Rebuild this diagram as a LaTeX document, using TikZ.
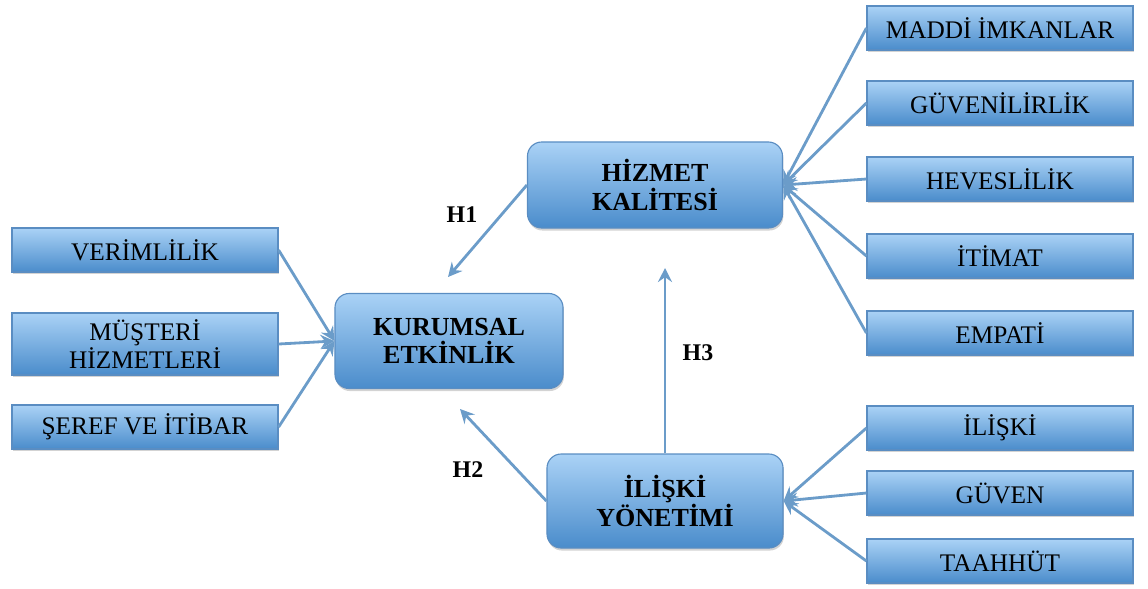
\documentclass[tikz,border=0pt]{standalone}
\usepackage{fontspec}
\setmainfont{Liberation Serif}
\usetikzlibrary{arrows.meta}
\usetikzlibrary{shadows}
\definecolor{boxtop}{HTML}{AAD2F6}
\definecolor{boxbot}{HTML}{4A8CCB}
\definecolor{boxline}{HTML}{5A8DC2}
\definecolor{arr}{HTML}{6B9CC9}
\tikzset{every picture/.style={line width=1pt}}

\begin{document}
\begin{tikzpicture}[x=0.025cm,y=-0.025cm,
sub/.style={rectangle, draw=boxline, line width=0.8pt, top color=boxtop, bottom color=boxbot, minimum width=6.65cm, minimum height=1.1cm, inner sep=1pt, align=center, font=\fontsize{18}{15.5}\selectfont, drop shadow={opacity=0.35, shadow xshift=0.6pt, shadow yshift=-1.6pt}},
main/.style={rectangle, rounded corners=2.2ex, draw=boxline, line width=0.8pt, top color=boxtop, bottom color=boxbot, inner sep=1pt, align=center, font=\bfseries\fontsize{18.5}{20}\selectfont, drop shadow={opacity=0.35, shadow xshift=0.6pt, shadow yshift=-1.8pt}},
con/.style={draw=arr, line width=2pt, -{Stealth[length=10pt,width=10pt,inset=3.5pt]}},
lab/.style={font=\bfseries\fontsize{17}{17}\selectfont}]
\useasboundingbox (0,0) rectangle (1148,588);

% main constructs
\node (ke) at (449,341) [main, minimum width=5.7cm, minimum height=2.375cm] {KURUMSAL\\ETKİNLİK};
\node (hk) at (655,185) [main, minimum width=6.375cm, minimum height=2.15cm] {HİZMET\\KALİTESİ};
\node (iy) at (665,501) [main, minimum width=5.9cm, minimum height=2.35cm] {İLİŞKİ\\YÖNETİMİ};

% dimensions
\foreach \i/\y/\h/\t in {1/250/1.1/VERİMLİLİK,2/344/1.55/{MÜŞTERİ\\HİZMETLERİ},3/427/1.1/ŞEREF VE İTİBAR} {
\node (l\i) at (145,\y) [sub, minimum height=\h cm] {\t};
\draw[con] (l\i.east) -- (ke.west);
}
\foreach \i/\y/\t in {1/28/MADDİ İMKANLAR,2/103/GÜVENİLİRLİK,3/179/HEVESLİLİK,4/256/İTİMAT,5/333/EMPATİ} {
\node (r\i) at (1000,\y) [sub] {\t};
\draw[con] (r\i.west) -- (hk.east);
}
\foreach \i/\y/\t in {1/428/İLİŞKİ,2/493/GÜVEN,3/561/TAAHHÜT} {
\node (s\i) at (1000,\y) [sub] {\t};
\draw[con] (s\i.west) -- (iy.east);
}

% hypotheses
\coordinate (h1end) at (448,277);
\coordinate (h2end) at (460,409);
\coordinate (h3end) at (665,268);
\draw[con] (hk.west) -- (h1end);
\draw[con] (iy.west) -- (h2end);
\draw[con] (iy.north) -- (h3end);
\node (h1) at (462,215) [lab] {H1};
\node (h2) at (468,470) [lab] {H2};
\node (h3) at (698,353) [lab] {H3};
\end{tikzpicture}
\end{document}
